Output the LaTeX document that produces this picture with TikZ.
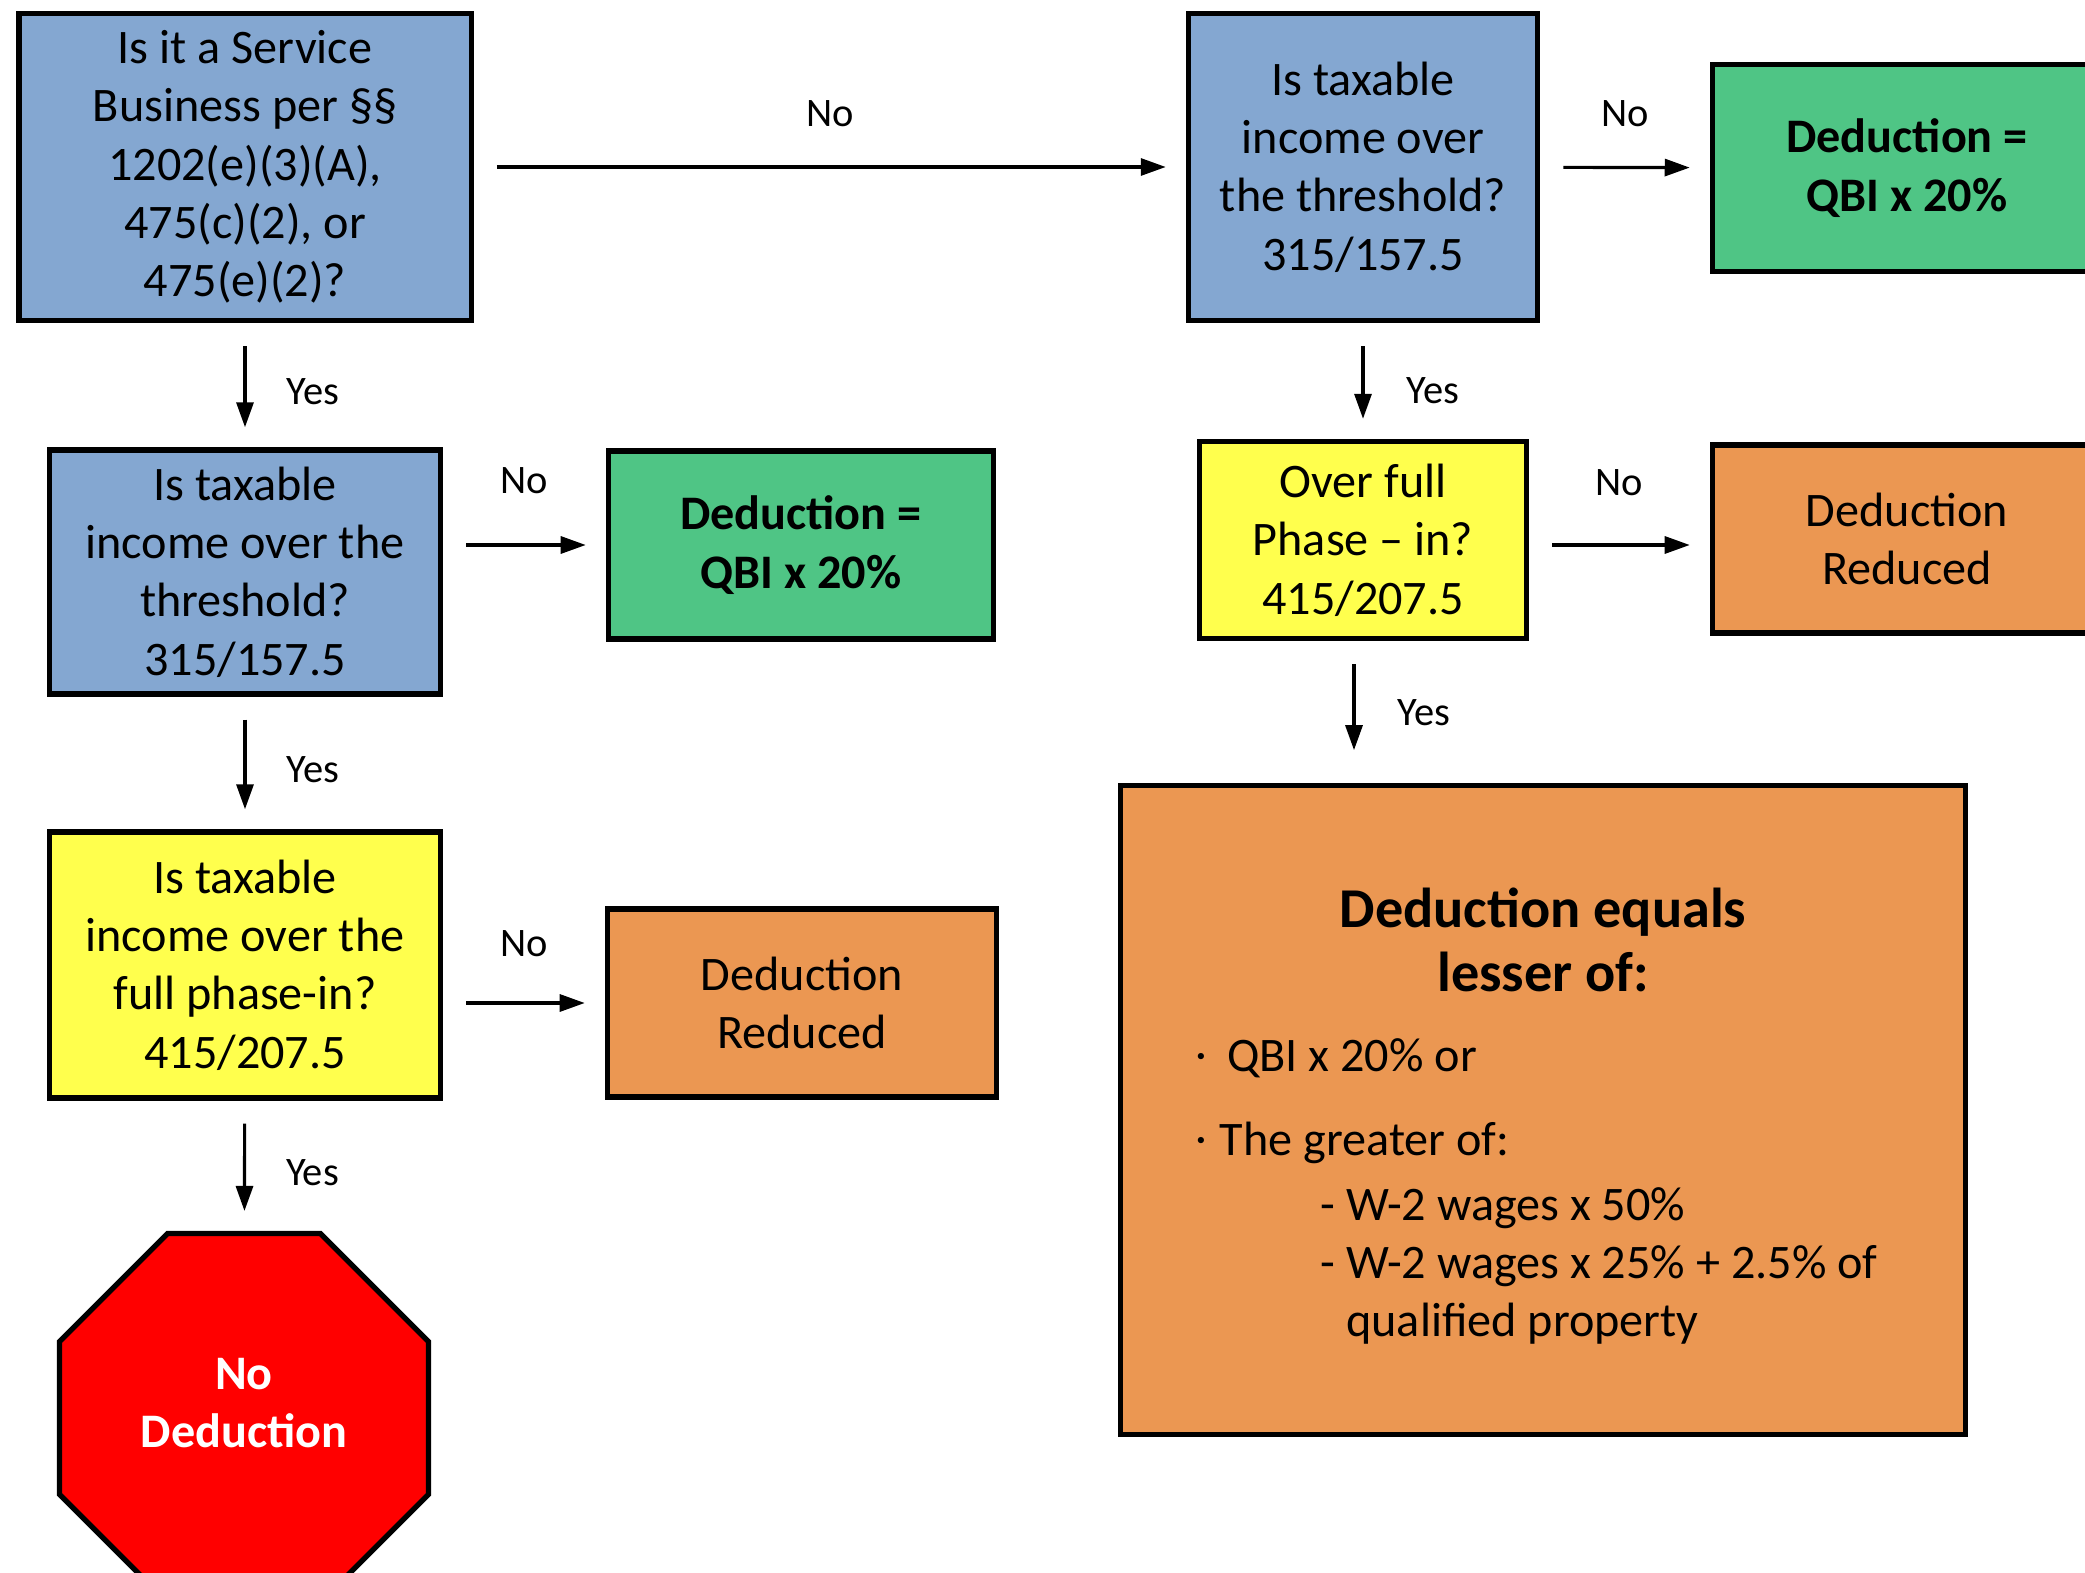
\documentclass[tikz,border=0pt]{standalone}
\usepackage{fontspec}
\setmainfont{Carlito}
\usetikzlibrary{arrows.meta,shapes.geometric}

\definecolor{qblue}{RGB}{132,167,209}
\definecolor{qgreen}{RGB}{79,197,133}
\definecolor{qyellow}{RGB}{255,255,77}
\definecolor{qorange}{RGB}{235,151,82}

\begin{document}
\begin{tikzpicture}[x=0.01cm, y=-0.01cm,
    box/.style={draw, line width=1.5pt, align=center, inner sep=0pt,
        font=\fontsize{13.7}{16.6}\selectfont},
    flow/.style={-{Triangle[length=0.25cm,width=0.17cm]}, line width=0.9pt,
        shorten <=0.23cm, shorten >=0.2cm},
    lbl/.style={inner sep=0pt, font=\fontsize{11.5}{13}\selectfont}]
    \useasboundingbox (0,0) rectangle (2085,1573);
    \clip (0,0) rectangle (2085,1573);

    % left column
    \node [box, fill=qblue, minimum width=4.52cm, minimum height=3.07cm] (service) at (245,167)
        {Is it a Service\\Business per §§\\1202(e)(3)(A),\\475(c)(2), or\\475(e)(2)?};
    \node [box, fill=qblue, minimum width=3.91cm, minimum height=2.44cm] (taxleft) at (245,572)
        {Is taxable\\income over the\\threshold?\\315/157.5};
    \node [box, fill=qgreen, minimum width=3.85cm, minimum height=1.88cm, font=\fontsize{13.7}{16.6}\selectfont\bfseries] (fullleft) at (801,545)
        {Deduction =\\QBI x 20\%};
    \node [box, fill=qyellow, minimum width=3.91cm, minimum height=2.66cm] (phaseleft) at (245,965)
        {Is taxable\\income over the\\full phase-in?\\415/207.5};
    \node [box, fill=qorange, minimum width=3.89cm, minimum height=1.88cm] (redleft) at (802,1003)
        {Deduction\\Reduced};
    \node [box, regular polygon, regular polygon sides=8, fill=red, minimum size=3.99cm,
        text=white, font=\fontsize{13.7}{16.6}\selectfont\bfseries] (nodeduct) at (244,1418)
        {No\\Deduction\rule[-0.3cm]{0pt}{0.3cm}};

    % right column
    \node [box, fill=qblue, minimum width=3.49cm, minimum height=3.07cm] (taxright) at (1363,167)
        {Is taxable\\income over\\the threshold?\\315/157.5};
    \node [box, fill=qgreen, minimum width=3.89cm, minimum height=2.07cm, font=\fontsize{13.7}{16.6}\selectfont\bfseries] (fullright) at (1907,168)
        {Deduction =\\QBI x 20\%};
    \node [box, fill=qyellow, minimum width=3.27cm, minimum height=1.97cm] (phaseright) at (1363,540)
        {Over full\\Phase -- in?\\415/207.5};
    \node [box, fill=qorange, minimum width=3.89cm, minimum height=1.88cm] (redright) at (1907,539)
        {Deduction\\Reduced};
    \node [box, fill=qorange, minimum width=8.45cm, minimum height=6.48cm] (lesser) at (1543,1110) {};

    % text of the big box
    \node [inner sep=0pt, align=center, font=\fontsize{16}{18.4}\selectfont\bfseries] (lessertitle) at (1543,940)
        {Deduction equals\\lesser of:};
    \node [inner sep=0pt, anchor=mid west, font=\fontsize{13.7}{16.6}\selectfont] (optqbi) at (1196,1063)
        {\raisebox{0.45ex}{\tiny\textbullet}\hspace{0.45em}QBI x 20\% or};
    \node [inner sep=0pt, anchor=mid west, font=\fontsize{13.7}{16.6}\selectfont] (optwage) at (1196,1147)
        {\raisebox{0.45ex}{\tiny\textbullet}\hspace{0.3em}The greater of:};
    \node [inner sep=0pt, anchor=west, align=left, font=\fontsize{13.7}{16.6}\selectfont] (wagelist) at (1320,1266)
        {- W-2 wages x 50\%\\- W-2 wages x 25\% + 2.5\% of\\\phantom{- }qualified property};

    % connectors
    \draw [flow] (service) -- (taxright) node [lbl, midway, above=0.39cm] {No};
    \draw [flow] (taxright) -- (fullright) node [lbl, midway, above=0.39cm] {No};
    \draw [flow] (service) -- (taxleft) node [lbl, pos=0.55, right=0.4cm] {Yes};
    \draw [flow] (taxleft.east |- fullleft.west) -- (fullleft.west) node [lbl, midway, above=0.5cm] {No};
    \draw [flow] (taxleft) -- (phaseleft) node [lbl, pos=0.55, right=0.4cm] {Yes};
    \draw [flow] (phaseleft.east |- redleft.west) -- (redleft.west) node [lbl, midway, above=0.45cm] {No};
    \draw [flow] (phaseleft) -- (nodeduct) node [lbl, pos=0.55, right=0.4cm] {Yes};
    \draw [flow] (taxright) -- (phaseright) node [lbl, pos=0.58, right=0.42cm] {Yes};
    \draw [flow] (phaseright.east |- fullleft) -- (redright.west |- fullleft) node [lbl, midway, above=0.48cm] {No};
    \draw [flow, shorten >=0.33cm] ([xshift=-0.09cm]phaseright.south) -- ([xshift=-0.09cm]phaseright.south |- lesser.north) node [lbl, midway, right=0.42cm] {Yes};
\end{tikzpicture}
\end{document}
